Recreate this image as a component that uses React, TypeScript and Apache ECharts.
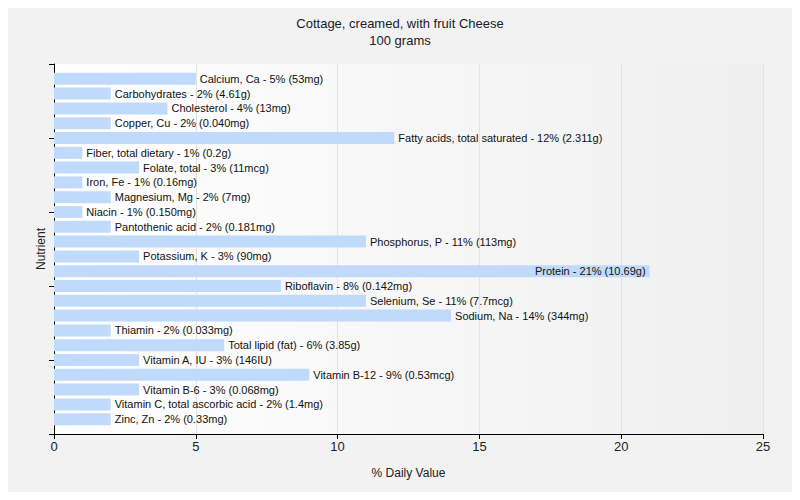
import React, { useEffect, useRef } from "react";
import * as echarts from "echarts";

const nutrients = [
  "Calcium, Ca", "Carbohydrates", "Cholesterol", "Copper, Cu", "Fatty acids, total saturated",
  "Fiber, total dietary", "Folate, total", "Iron, Fe", "Magnesium, Mg", "Niacin",
  "Pantothenic acid", "Phosphorus, P", "Potassium, K", "Protein", "Riboflavin",
  "Selenium, Se", "Sodium, Na", "Thiamin", "Total lipid (fat)", "Vitamin A, IU",
  "Vitamin B-12", "Vitamin B-6", "Vitamin C, total ascorbic acid", "Zinc, Zn",
];
const percents = [5, 2, 4, 2, 12, 1, 3, 1, 2, 1, 2, 11, 3, 21, 8, 11, 14, 2, 6, 3, 9, 3, 2, 2];
const amounts = [
  "53mg", "4.61g", "13mg", "0.040mg", "2.311g", "0.2g", "11mcg", "0.16mg", "7mg", "0.150mg",
  "0.181mg", "113mg", "90mg", "10.69g", "0.142mg", "7.7mcg", "344mg", "0.033mg", "3.85g", "146IU",
  "0.53mcg", "0.068mg", "1.4mg", "0.33mg",
];
const xTicks = [0, 5, 10, 15, 20, 25];

const FONT = "Liberation Sans";

export default function App() {
  const ref = useRef<HTMLDivElement>(null);
  useEffect(() => {
    if (!ref.current) return;
    const chart = echarts.init(ref.current, null, { renderer: "svg" });
    const cats = ["", ...nutrients, ""];
    const xMax = xTicks[xTicks.length - 1];
    const data: any[] = [
      null,
      ...percents.map((p, i) => {
        const item: any = { value: p, idx: i };
        if (p > xMax * 0.8) item.label = { position: "insideRight", distance: 4 };
        return item;
      }),
      null,
    ];
    chart.setOption({
      animation: false,
      backgroundColor: "#f2f2f2",
      title: {
        text: "Cottage, creamed, with fruit Cheese\n100 grams",
        left: "center",
        top: 10,
        textStyle: { fontFamily: FONT, fontSize: 13, fontWeight: "normal", color: "#1a1a2a", lineHeight: 17 },
      },
      grid: {
        left: 54, right: 37, top: 64, bottom: 66, show: true, borderWidth: 0,
        backgroundColor: new echarts.graphic.LinearGradient(0, 0, 1, 0, [
          { offset: 0, color: "#ffffff" },
          { offset: 1, color: "#efefef" },
        ]),
      },
      xAxis: {
        type: "value", min: xTicks[0], max: xMax, interval: 5,
        name: "% Daily Value", nameLocation: "middle", nameGap: 33,
        nameTextStyle: { fontFamily: FONT, fontSize: 12, color: "#222" },
        axisLine: { show: true, lineStyle: { color: "#000", width: 1 } },
        axisTick: { show: true, length: 5, lineStyle: { color: "#000" } },
        axisLabel: { fontFamily: FONT, fontSize: 13, color: "#222", margin: 6 },
        splitLine: { show: true, lineStyle: { color: "#e2e2e2", width: 1 } },
      },
      yAxis: {
        type: "category", data: cats, inverse: true, boundaryGap: false,
        name: "Nutrient", nameLocation: "middle", nameGap: 7, nameRotate: 90,
        nameTextStyle: { fontFamily: FONT, fontSize: 12, color: "#222" },
        axisLine: { show: true, lineStyle: { color: "#000", width: 1 } },
        axisTick: { show: true, length: 5, interval: 4, lineStyle: { color: "#000" } },
        axisLabel: { show: false },
        splitLine: { show: false },
      },
      series: [
        {
          type: "bar",
          data,
          barWidth: 12,
          itemStyle: { color: "#c0dafc" },
          label: {
            show: true,
            position: "right",
            distance: 4,
            fontFamily: FONT,
            fontSize: 11,
            color: "#111",
            formatter: (p: any) => {
              const i = p.data.idx;
              return `${nutrients[i]} - ${percents[i]}% (${amounts[i]})`;
            },
          },
        },
      ],
    });
    return () => chart.dispose();
  }, []);
  return <div ref={ref} style={{ width: 800, height: 500, margin: -8 }} />;
}
